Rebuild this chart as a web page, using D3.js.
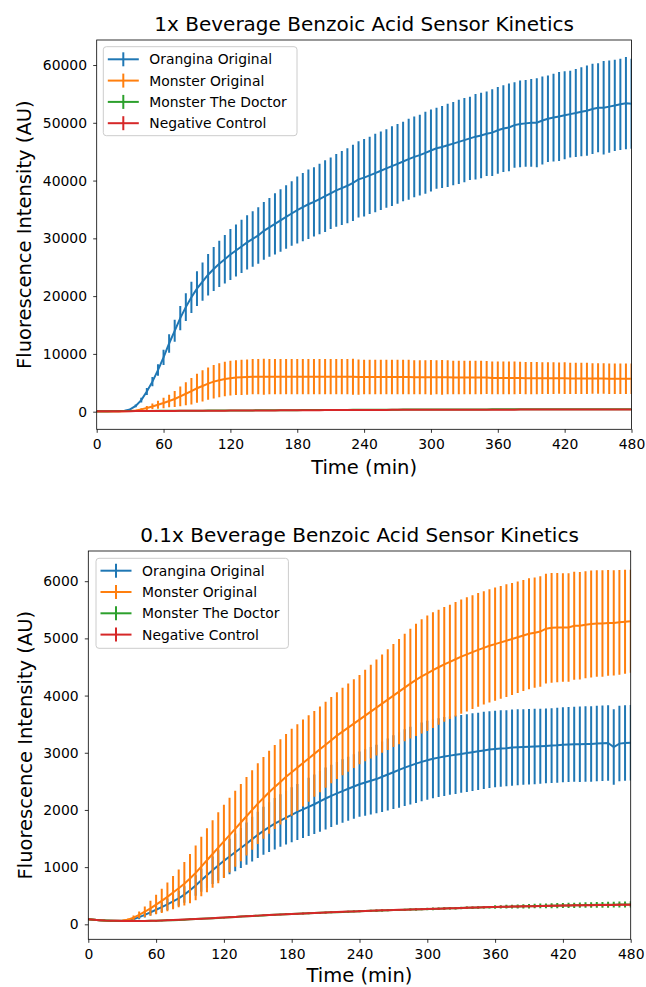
<!DOCTYPE html>
<html>
<head>
<meta charset="utf-8">
<script src="https://cdn.jsdelivr.net/npm/d3@7"></script>
<style>
body { margin: 0; background: #fff; }
text { font-family: "DejaVu Sans", sans-serif; fill: #000; }
</style>
</head>
<body>
<svg id="svg0" width="646" height="987"></svg>
<script>
// sample times (min), one row per hour
var times = [
  0, 5, 10, 15, 20, 25, 30, 35, 40, 45, 50, 55,
  60, 65, 70, 75, 80, 85, 90, 95, 100, 105, 110, 115,
  120, 125, 130, 135, 140, 145, 150, 155, 160, 165, 170, 175,
  180, 185, 190, 195, 200, 205, 210, 215, 220, 225, 230, 235,
  240, 245, 250, 255, 260, 265, 270, 275, 280, 285, 290, 295,
  300, 305, 310, 315, 320, 325, 330, 335, 340, 345, 350, 355,
  360, 365, 370, 375, 380, 385, 390, 395, 400, 405, 410, 415,
  420, 425, 430, 435, 440, 445, 450, 455, 460, 465, 470, 475,
  480];

var seriesNames = ["Orangina Original", "Monster Original", "Monster The Doctor", "Negative Control"];
var seriesColors = ["#1f77b4", "#ff7f0e", "#2ca02c", "#d62728"];

var xTicks = [0, 60, 120, 180, 240, 300, 360, 420, 480];
var yTicks1 = [0, 10000, 20000, 30000, 40000, 50000, 60000];
var yTicks2 = [0, 1000, 2000, 3000, 4000, 5000, 6000];

// ---- 1x beverage ----
var orangina1 = [
  80, 70, 60, 60, 70, 150, 400, 1000, 2000, 3500, 5200, 7200,
  9400, 11800, 14000, 16200, 18100, 19800, 21300, 22500, 23700, 24700, 25600, 26400,
  27200, 27900, 28600, 29300, 29900, 30500, 31300, 31900, 32500, 33100, 33700, 34300,
  34900, 35400, 35900, 36300, 36800, 37300, 37800, 38300, 38700, 39100, 39600, 40200,
  40500, 40900, 41300, 41700, 42100, 42500, 42900, 43300, 43700, 44100, 44400, 44800,
  45200, 45600, 45800, 46100, 46400, 46700, 47000, 47300, 47600, 47800, 48100, 48300,
  48700, 49000, 49200, 49600, 49800, 49900, 50000, 50000, 50400, 50700, 50900, 51100,
  51300, 51500, 51700, 51900, 52100, 52400, 52600, 52600, 52800, 53000, 53200, 53400,
  53300];
var orangina1Err = [
  40, 40, 40, 40, 50, 80, 120, 250, 400, 600, 800, 1000,
  1300, 1600, 1900, 2100, 2400, 2700, 3000, 3300, 3600, 3800, 4000, 4200,
  4400, 4500, 4600, 4700, 4800, 4900, 5000, 5100, 5300, 5400, 5500, 5600,
  5800, 5900, 6000, 6000, 6100, 6200, 6200, 6300, 6400, 6500, 6600, 6600,
  6700, 6700, 6800, 6800, 6800, 6900, 6900, 6900, 7000, 7000, 7000, 7100,
  7100, 7000, 7100, 7200, 7200, 7300, 7300, 7200, 7400, 7400, 7300, 7500,
  7500, 7500, 7600, 7400, 7500, 7500, 7600, 7700, 7600, 7500, 7600, 7700,
  7600, 7500, 7600, 7700, 7800, 7800, 7700, 8100, 8000, 7900, 7900, 8000,
  7800];
var monster1 = [
  50, 50, 50, 50, 50, 60, 100, 200, 400, 650, 900, 1200,
  1500, 1850, 2200, 2650, 3100, 3550, 4050, 4450, 4850, 5200, 5450, 5650,
  5800, 5900, 5950, 6000, 6050, 6050, 6050, 6050, 6050, 6050, 6050, 6050,
  6050, 6050, 6050, 6050, 6050, 6050, 6050, 6050, 6050, 6050, 6050, 6000,
  6000, 6000, 6000, 6000, 6000, 6000, 6000, 6000, 6000, 5950, 5950, 5950,
  5950, 5950, 5950, 5950, 5900, 5900, 5900, 5900, 5900, 5900, 5900, 5850,
  5850, 5850, 5850, 5850, 5850, 5800, 5800, 5800, 5800, 5800, 5800, 5800,
  5800, 5750, 5750, 5750, 5750, 5750, 5750, 5750, 5700, 5700, 5700, 5700,
  5700];
var monster1Err = [
  30, 30, 30, 30, 30, 30, 30, 100, 200, 350, 500, 700,
  900, 1100, 1400, 1700, 2000, 2300, 2500, 2700, 2800, 2900, 2950, 3000,
  3000, 3000, 3050, 3050, 3050, 3050, 3100, 3050, 3050, 3050, 3050, 3050,
  3050, 3050, 3050, 3050, 3050, 3050, 3050, 3050, 3050, 3050, 3100, 3050,
  3000, 3000, 3000, 3000, 3000, 3000, 3000, 3000, 3000, 2950, 2950, 2950,
  3000, 2950, 3000, 2950, 2900, 2900, 2900, 2900, 2900, 2900, 2850, 2850,
  2850, 2850, 2850, 2850, 2800, 2800, 2800, 2800, 2750, 2750, 2750, 2700,
  2750, 2700, 2700, 2700, 2700, 2650, 2650, 2650, 2650, 2650, 2650, 2650,
  2650];
var doctor1 = [
  90, 90, 95, 100, 105, 110, 115, 120, 125, 130, 135, 140,
  145, 150, 155, 160, 165, 170, 175, 180, 185, 190, 195, 200,
  205, 210, 215, 220, 225, 230, 235, 240, 245, 250, 255, 260,
  265, 270, 275, 280, 285, 290, 295, 300, 305, 310, 315, 320,
  325, 330, 335, 340, 345, 350, 355, 360, 365, 370, 370, 375,
  375, 380, 380, 385, 385, 390, 390, 390, 395, 395, 395, 400,
  400, 400, 405, 405, 405, 405, 410, 410, 410, 410, 410, 415,
  415, 415, 415, 415, 420, 420, 420, 420, 420, 420, 420, 420,
  420];
var doctor1Err = [
  20, 20, 20, 20, 20, 20, 20, 20, 20, 20, 20, 20,
  25, 25, 25, 25, 25, 25, 25, 25, 25, 25, 25, 25,
  30, 30, 30, 30, 30, 30, 30, 30, 30, 30, 30, 30,
  35, 35, 35, 35, 35, 35, 35, 35, 35, 35, 35, 35,
  40, 40, 40, 40, 40, 40, 40, 40, 40, 40, 40, 40,
  45, 45, 45, 45, 45, 45, 45, 45, 45, 45, 45, 45,
  50, 50, 50, 50, 50, 50, 50, 50, 50, 50, 50, 50,
  55, 55, 55, 55, 55, 55, 55, 55, 55, 55, 55, 55,
  55];
var negative1 = [
  70, 70, 75, 80, 85, 90, 95, 100, 105, 110, 115, 120,
  125, 130, 135, 140, 145, 150, 155, 160, 165, 170, 175, 180,
  185, 190, 195, 200, 205, 210, 215, 220, 225, 230, 235, 240,
  245, 250, 255, 260, 265, 270, 275, 280, 285, 290, 295, 300,
  300, 305, 305, 310, 310, 315, 315, 320, 320, 325, 325, 330,
  330, 335, 335, 335, 340, 340, 340, 345, 345, 345, 350, 350,
  350, 355, 355, 355, 360, 360, 360, 360, 365, 365, 365, 365,
  370, 370, 370, 370, 370, 375, 375, 375, 375, 375, 380, 380,
  380];
var negative1Err = [
  20, 20, 20, 20, 20, 20, 20, 20, 20, 20, 20, 20,
  20, 20, 20, 20, 20, 20, 20, 20, 20, 20, 20, 20,
  25, 25, 25, 25, 25, 25, 25, 25, 25, 25, 25, 25,
  25, 25, 25, 25, 25, 25, 25, 25, 25, 25, 25, 25,
  30, 30, 30, 30, 30, 30, 30, 30, 30, 30, 30, 30,
  30, 30, 30, 30, 30, 30, 30, 30, 30, 30, 30, 30,
  35, 35, 35, 35, 35, 35, 35, 35, 35, 35, 35, 35,
  35, 35, 35, 35, 35, 35, 35, 35, 35, 35, 35, 35,
  35];

// ---- 0.1x beverage ----
var orangina2 = [
  90, 80, 72, 66, 63, 62, 63, 70, 90, 125, 165, 210,
  255, 300, 350, 400, 455, 520, 595, 680, 770, 860, 945, 1030,
  1110, 1185, 1260, 1335, 1410, 1490, 1565, 1635, 1700, 1760, 1815, 1865,
  1915, 1965, 2010, 2055, 2100, 2150, 2200, 2245, 2290, 2330, 2370, 2410,
  2450, 2480, 2510, 2540, 2580, 2620, 2660, 2700, 2740, 2775, 2810, 2840,
  2870, 2895, 2915, 2935, 2950, 2965, 2980, 2995, 3010, 3025, 3040, 3055,
  3065, 3075, 3080, 3090, 3095, 3100, 3105, 3110, 3115, 3120, 3125, 3130,
  3140, 3145, 3150, 3150, 3155, 3155, 3160, 3165, 3170, 3100, 3160, 3170,
  3175];
var orangina2Err = [
  10, 10, 10, 10, 10, 10, 10, 15, 25, 35, 45, 55,
  70, 85, 100, 115, 130, 145, 160, 180, 200, 220, 240, 265,
  290, 310, 330, 350, 370, 390, 405, 420, 435, 450, 460, 470,
  480, 490, 500, 510, 520, 530, 540, 545, 550, 555, 560, 565,
  570, 580, 590, 600, 615, 630, 645, 660, 670, 680, 690, 690,
  690, 690, 690, 690, 685, 685, 680, 680, 680, 675, 675, 670,
  670, 670, 665, 665, 665, 660, 660, 660, 655, 655, 655, 655,
  655, 655, 655, 660, 660, 660, 660, 660, 660, 660, 660, 660,
  660];
var monster2 = [
  90, 80, 72, 66, 63, 62, 65, 80, 115, 165, 220, 280,
  345, 410, 480, 555, 630, 710, 800, 900, 1010, 1120, 1230, 1340,
  1450, 1560, 1670, 1780, 1890, 2000, 2110, 2210, 2310, 2400, 2490, 2580,
  2660, 2740, 2820, 2900, 2980, 3060, 3140, 3220, 3300, 3370, 3440, 3510,
  3580, 3650, 3720, 3790, 3860, 3930, 4000, 4070, 4140, 4210, 4275, 4335,
  4390, 4445, 4495, 4545, 4590, 4635, 4680, 4720, 4760, 4800, 4835, 4870,
  4900, 4930, 4960, 4990, 5020, 5050, 5080, 5100, 5120, 5170, 5185, 5190,
  5190, 5190, 5220, 5220, 5240, 5250, 5260, 5260, 5270, 5270, 5280, 5290,
  5300];
var monster2Err = [
  10, 10, 10, 10, 10, 10, 10, 20, 40, 60, 90, 130,
  170, 210, 250, 290, 330, 380, 430, 480, 520, 560, 590, 620,
  640, 655, 665, 675, 685, 695, 705, 715, 725, 735, 745, 750,
  760, 760, 760, 755, 750, 750, 750, 755, 760, 765, 770, 775,
  780, 800, 820, 840, 860, 880, 900, 920, 940, 960, 980, 1000,
  1010, 1010, 1005, 1005, 1000, 1000, 1000, 1000, 995, 995, 990, 990,
  990, 985, 985, 980, 975, 970, 970, 965, 965, 960, 960, 955,
  950, 950, 945, 940, 935, 935, 930, 930, 925, 920, 915, 910,
  900];
var doctor2 = [
  88, 78, 70, 65, 62, 60, 59, 59, 59, 60, 60, 61,
  63, 65, 69, 73, 77, 82, 87, 92, 97, 102, 107, 112,
  117, 123, 129, 135, 140, 146, 151, 156, 161, 166, 171, 176,
  180, 185, 189, 193, 197, 201, 205, 209, 213, 217, 221, 225,
  229, 232, 236, 239, 243, 246, 249, 252, 255, 258, 261, 264,
  267, 270, 273, 276, 279, 282, 285, 288, 291, 294, 297, 300,
  303, 305, 308, 310, 312, 315, 317, 319, 321, 323, 325, 327,
  329, 331, 333, 335, 336, 338, 340, 341, 343, 344, 346, 347,
  348];
var doctor2Err = [
  8, 8, 8, 8, 8, 8, 8, 8, 8, 8, 8, 8,
  10, 10, 10, 10, 10, 10, 10, 10, 10, 10, 10, 10,
  12, 12, 12, 12, 12, 12, 12, 12, 12, 12, 12, 12,
  15, 15, 15, 15, 15, 15, 15, 15, 15, 15, 15, 15,
  18, 18, 18, 18, 18, 18, 18, 18, 18, 18, 18, 18,
  22, 22, 22, 22, 22, 22, 22, 22, 22, 22, 22, 22,
  30, 30, 32, 34, 36, 38, 40, 40, 42, 42, 44, 44,
  45, 45, 46, 46, 48, 48, 50, 50, 52, 52, 54, 54,
  55];
var negative2 = [
  90, 80, 72, 66, 63, 61, 60, 60, 60, 60, 60, 61,
  63, 66, 70, 74, 78, 83, 88, 93, 98, 103, 108, 113,
  118, 124, 130, 136, 141, 147, 152, 157, 162, 167, 172, 177,
  181, 186, 190, 194, 198, 202, 206, 210, 214, 218, 222, 226,
  230, 233, 237, 240, 244, 247, 250, 253, 256, 259, 262, 265,
  268, 271, 274, 277, 280, 283, 286, 289, 292, 295, 298, 301,
  304, 306, 308, 310, 312, 314, 316, 318, 320, 322, 324, 326,
  328, 330, 332, 333, 334, 335, 336, 337, 338, 339, 340, 341,
  342];
var negative2Err = [
  6, 6, 6, 6, 6, 6, 6, 6, 6, 6, 6, 6,
  8, 8, 8, 8, 8, 8, 8, 8, 8, 8, 8, 8,
  10, 10, 10, 10, 10, 10, 10, 10, 10, 10, 10, 10,
  12, 12, 12, 12, 12, 12, 12, 12, 12, 12, 12, 12,
  14, 14, 14, 14, 14, 14, 14, 14, 14, 14, 14, 14,
  16, 16, 16, 16, 16, 16, 16, 16, 16, 16, 16, 16,
  18, 18, 18, 18, 18, 18, 18, 18, 18, 18, 18, 18,
  20, 20, 20, 20, 20, 20, 20, 20, 20, 20, 20, 20,
  20];

var svg = d3.select('#svg0');

function drawPanel(p) {
  var x = d3.scaleLinear().domain([0, 480]).range([p.left, p.right]);
  var y = d3.scaleLinear().domain(p.yDomain).range([p.bottom, p.top]);
  var g = svg.append('g');

  // title
  g.append('text')
    .attr('x', (p.left + p.right) / 2)
    .attr('y', p.top - 9)
    .attr('text-anchor', 'middle')
    .style('font-size', '20px')
    .text(p.title);

  var clipId = 'clip' + p.id;
  g.append('clipPath').attr('id', clipId)
    .append('rect')
    .attr('x', p.left).attr('y', p.top)
    .attr('width', p.right - p.left).attr('height', p.bottom - p.top);

  var plot = g.append('g').attr('clip-path', 'url(#' + clipId + ')');
  var line = d3.line()
    .x(function (d, i) { return x(times[i]); })
    .y(function (d) { return y(d); });

  p.means.forEach(function (m, s) {
    var err = p.errs[s];
    plot.append('g').selectAll('line')
      .data(m)
      .enter()
      .append('line')
      .attr('x1', function (d, i) { return x(times[i]); })
      .attr('x2', function (d, i) { return x(times[i]); })
      .attr('y1', function (d, i) { return y(d - err[i]); })
      .attr('y2', function (d, i) { return y(d + err[i]); })
      .attr('stroke', seriesColors[s])
      .attr('stroke-width', 2);
    plot.append('path')
      .datum(m)
      .attr('d', line)
      .attr('fill', 'none')
      .attr('stroke', seriesColors[s])
      .attr('stroke-width', 2);
  });

  // axes
  var xAxis = g.append('g')
    .attr('transform', 'translate(0,' + p.bottom + ')')
    .call(d3.axisBottom(x).tickValues(xTicks).tickSize(3.5).tickPadding(6.6).tickFormat(d3.format('d')));
  var yAxis = g.append('g')
    .attr('transform', 'translate(' + p.left + ',0)')
    .call(d3.axisLeft(y).tickValues(p.yTicks).tickSize(3.5).tickPadding(6.2).tickFormat(d3.format('d')));
  [xAxis, yAxis].forEach(function (a) {
    a.select('.domain').remove();
    a.selectAll('.tick line').attr('stroke', '#000').attr('stroke-width', 0.8);
    a.selectAll('.tick text')
      .style('font-family', '"DejaVu Sans", sans-serif')
      .style('font-size', '13.9px')
      .attr('fill', '#000');
  });

  g.append('rect')
    .attr('x', p.left).attr('y', p.top)
    .attr('width', p.right - p.left).attr('height', p.bottom - p.top)
    .attr('fill', 'none')
    .attr('stroke', '#000')
    .attr('stroke-width', 0.8);

  // axis labels
  g.append('text')
    .attr('x', (p.left + p.right) / 2)
    .attr('y', p.bottom + p.xlabelDy)
    .attr('text-anchor', 'middle')
    .style('font-size', '19.5px')
    .text('Time (min)');
  g.append('text')
    .attr('transform', 'translate(' + p.ylabelX + ',' + ((p.top + p.bottom) / 2) + ') rotate(-90)')
    .attr('text-anchor', 'middle')
    .style('font-size', '19.5px')
    .text('Fluorescence Intensity (AU)');

  // legend
  var lg = p.legend;
  var leg = g.append('g');
  leg.append('rect')
    .attr('x', lg.x).attr('y', lg.y)
    .attr('width', lg.w).attr('height', lg.h)
    .attr('rx', 3)
    .attr('fill', '#fff').attr('fill-opacity', 0.8)
    .attr('stroke', '#cccccc').attr('stroke-width', 1);
  seriesNames.forEach(function (name, i) {
    var cy = lg.row0 + i * lg.step;
    leg.append('line')
      .attr('x1', lg.x + 4.5).attr('x2', lg.x + 35.5)
      .attr('y1', cy).attr('y2', cy)
      .attr('stroke', seriesColors[i]).attr('stroke-width', 2);
    leg.append('line')
      .attr('x1', lg.x + 20).attr('x2', lg.x + 20)
      .attr('y1', cy - 7).attr('y2', cy + 7)
      .attr('stroke', seriesColors[i]).attr('stroke-width', 2);
    leg.append('text')
      .attr('x', lg.x + 46)
      .attr('y', cy + 5)
      .style('font-size', '13.9px')
      .text(name);
  });
}

drawPanel({
  id: 1,
  title: '1x Beverage Benzoic Acid Sensor Kinetics',
  left: 96.7, right: 631.5, top: 40, bottom: 429.3,
  yDomain: [-3050, 64330],
  yTicks: yTicks1,
  means: [orangina1, monster1, doctor1, negative1],
  errs: [orangina1Err, monster1Err, doctor1Err, negative1Err],
  ylabelX: 31,
  xlabelDy: 44.5,
  legend: { x: 103.3, y: 46.7, w: 193.7, h: 89, row0: 59.3, step: 21.3 }
});

drawPanel({
  id: 2,
  title: '0.1x Beverage Benzoic Acid Sensor Kinetics',
  left: 88.3, right: 630.7, top: 551, bottom: 939.3,
  yDomain: [-262, 6528],
  yTicks: yTicks2,
  means: [orangina2, monster2, doctor2, negative2],
  errs: [orangina2Err, monster2Err, doctor2Err, negative2Err],
  ylabelX: 32,
  xlabelDy: 43,
  legend: { x: 96, y: 558.3, w: 192.4, h: 90, row0: 570.7, step: 21.3 }
});
</script>
</body>
</html>
